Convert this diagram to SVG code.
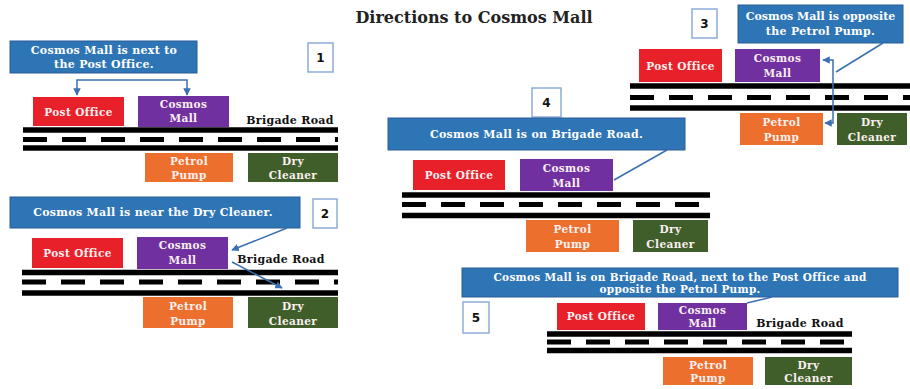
<svg xmlns="http://www.w3.org/2000/svg" width="910" height="389" viewBox="0 0 910 389">
<defs>
<style>
.call{fill:#2e75b6;stroke:#2a5d96;stroke-width:1}
.po{fill:#e8202a}
.cm{fill:#7030a0}
.pp{fill:#ec6f2d}
.dc{fill:#3f5e2a}
.num{fill:#fff;stroke:#8eaadb;stroke-width:1.5}
.bt{font-family:"DejaVu Serif",serif;font-weight:bold;font-size:10.5px;letter-spacing:0.4px;fill:#fbeff0;text-anchor:middle}
.ct{font-family:"DejaVu Serif",serif;font-weight:bold;font-size:11px;letter-spacing:0.3px;fill:#fff;text-anchor:middle}
.rt{font-family:"DejaVu Serif",serif;font-weight:bold;font-size:11px;letter-spacing:0.3px;fill:#111;text-anchor:middle}
.nt{font-family:"DejaVu Sans",sans-serif;font-weight:bold;font-size:12px;fill:#111;text-anchor:middle}
.title{font-family:"DejaVu Serif",serif;font-weight:bold;font-size:16px;fill:#222;text-anchor:middle}
.rs{stroke:#000;stroke-width:5.5;fill:none}
.rd{stroke:#000;stroke-width:5;stroke-dasharray:24 15;fill:none}
.ln{stroke:#3a6fb0;stroke-width:1.5;fill:none}
</style>
<marker id="ah" viewBox="0 0 10 10" refX="9" refY="5" markerWidth="5" markerHeight="5" orient="auto-start-reverse">
<path d="M0,0 L10,5 L0,10 z" fill="#3a6fb0"/>
</marker>
</defs>
<rect width="910" height="389" fill="#fff"/>
<text class="title" x="474" y="23">Directions to Cosmos Mall</text>

<!-- Panel 1 -->
<g id="p1-road">
<line class="rs" x1="23" y1="130" x2="338" y2="130"/>
<line class="rd" x1="23" y1="139.5" x2="338" y2="139.5"/>
<line class="rs" x1="23" y1="148" x2="338" y2="148"/>
</g>
<g id="p1-callout"><rect class="call" x="10" y="41" width="187" height="32"/><text class="ct" x="104" y="54">Cosmos Mall is next to</text><text class="ct" x="104" y="68">the Post Office.</text></g>
<g id="p1-num"><rect class="num" x="308" y="43" width="25" height="29"/><text class="nt" x="320.5" y="62">1</text></g>
<g id="p1-po"><rect class="po" x="33" y="97" width="91" height="29"/><text class="bt" x="78.5" y="115.5">Post Office</text></g>
<g id="p1-cm"><rect class="cm" x="138" y="96" width="91" height="31"/><text class="bt" x="183.5" y="108">Cosmos</text><text class="bt" x="183.5" y="122">Mall</text></g>
<g id="p1-br"><text class="rt" x="290" y="124">Brigade Road</text></g>
<g id="p1-pp"><rect class="pp" x="145" y="153" width="88" height="29"/><text class="bt" x="189" y="165">Petrol</text><text class="bt" x="189" y="179">Pump</text></g>
<g id="p1-dc"><rect class="dc" x="248" y="153" width="90" height="29"/><text class="bt" x="293" y="165">Dry</text><text class="bt" x="293" y="179">Cleaner</text></g>

<!-- Panel 2 -->
<g id="p2-road">
<line class="rs" x1="22" y1="272.5" x2="338" y2="272.5"/>
<line class="rd" x1="22" y1="282" x2="338" y2="282"/>
<line class="rs" x1="22" y1="293" x2="338" y2="293"/>
</g>
<g id="p2-callout"><rect class="call" x="10" y="197" width="290" height="31"/><text class="ct" x="153" y="216">Cosmos Mall is near the Dry Cleaner.</text></g>
<g id="p2-num"><rect class="num" x="313" y="199" width="24" height="29"/><text class="nt" x="325" y="218">2</text></g>
<g id="p2-po"><rect class="po" x="32" y="238" width="91" height="30"/><text class="bt" x="77.5" y="257">Post Office</text></g>
<g id="p2-cm"><rect class="cm" x="137" y="237" width="91" height="32"/><text class="bt" x="182.5" y="249">Cosmos</text><text class="bt" x="182.5" y="264">Mall</text></g>
<g id="p2-br"><text class="rt" x="281" y="263">Brigade Road</text></g>
<g id="p2-pp"><rect class="pp" x="143" y="297" width="90" height="31"/><text class="bt" x="188" y="310">Petrol</text><text class="bt" x="188" y="325">Pump</text></g>
<g id="p2-dc"><rect class="dc" x="248" y="297" width="90" height="31"/><text class="bt" x="293" y="310">Dry</text><text class="bt" x="293" y="325">Cleaner</text></g>

<!-- Panel 3 -->
<g id="p3-road">
<line class="rs" x1="630" y1="86" x2="910" y2="86"/>
<line class="rd" x1="630" y1="97.5" x2="910" y2="97.5"/>
<line class="rs" x1="630" y1="108" x2="910" y2="108"/>
</g>
<g id="p3-num"><rect class="num" x="692" y="9" width="25" height="29"/><text class="nt" x="704.5" y="28">3</text></g>
<g id="p3-callout"><rect class="call" x="738" y="5" width="165" height="38"/><text class="ct" x="820.5" y="20" style="letter-spacing:0">Cosmos Mall is opposite</text><text class="ct" x="820.5" y="35">the Petrol Pump.</text></g>
<g id="p3-po"><rect class="po" x="639" y="49" width="83" height="33"/><text class="bt" x="680.5" y="69.5">Post Office</text></g>
<g id="p3-cm"><rect class="cm" x="735" y="49" width="85" height="33"/><text class="bt" x="777.5" y="62">Cosmos</text><text class="bt" x="777.5" y="77">Mall</text></g>
<g id="p3-pp"><rect class="pp" x="740" y="113" width="83" height="32"/><text class="bt" x="781.5" y="126">Petrol</text><text class="bt" x="781.5" y="141">Pump</text></g>
<g id="p3-dc"><rect class="dc" x="837" y="113" width="70" height="32"/><text class="bt" x="872" y="126">Dry</text><text class="bt" x="872" y="141">Cleaner</text></g>

<!-- Panel 4 -->
<g id="p4-road">
<line class="rs" x1="402" y1="195" x2="710" y2="195"/>
<line class="rd" x1="402" y1="204.5" x2="710" y2="204.5"/>
<line class="rs" x1="402" y1="215.5" x2="710" y2="215.5"/>
</g>
<g id="p4-num"><rect class="num" x="532" y="88" width="29" height="29"/><text class="nt" x="546.5" y="107">4</text></g>
<g id="p4-callout"><rect class="call" x="388" y="118" width="297" height="32"/><text class="ct" x="536.5" y="138">Cosmos Mall is on Brigade Road.</text></g>
<g id="p4-po"><rect class="po" x="413" y="160" width="92" height="30"/><text class="bt" x="459" y="179">Post Office</text></g>
<g id="p4-cm"><rect class="cm" x="520" y="159" width="93" height="32"/><text class="bt" x="566.5" y="172">Cosmos</text><text class="bt" x="566.5" y="187">Mall</text></g>
<g id="p4-pp"><rect class="pp" x="526" y="220" width="93" height="32"/><text class="bt" x="572.5" y="233">Petrol</text><text class="bt" x="572.5" y="248">Pump</text></g>
<g id="p4-dc"><rect class="dc" x="633" y="220" width="75" height="32"/><text class="bt" x="670.5" y="233">Dry</text><text class="bt" x="670.5" y="248">Cleaner</text></g>

<!-- Panel 5 -->
<g id="p5-road">
<line class="rs" x1="547" y1="334" x2="852" y2="334"/>
<line class="rd" x1="547" y1="342" x2="852" y2="342"/>
<line class="rs" x1="547" y1="350.5" x2="852" y2="350.5"/>
</g>
<g id="p5-callout"><rect class="call" x="462" y="268" width="436" height="29"/><text class="ct" x="680" y="280.5" style="font-size:10.5px">Cosmos Mall is on Brigade Road, next to the Post Office and</text><text class="ct" x="680" y="293" style="font-size:10.5px">opposite the Petrol Pump.</text></g>
<g id="p5-num"><rect class="num" x="463" y="302" width="26" height="31"/><text class="nt" x="476" y="322">5</text></g>
<g id="p5-po"><rect class="po" x="557" y="303" width="88" height="27"/><text class="bt" x="601" y="320">Post Office</text></g>
<g id="p5-cm"><rect class="cm" x="658" y="303" width="89" height="27"/><text class="bt" x="702.5" y="314">Cosmos</text><text class="bt" x="702.5" y="327">Mall</text></g>
<g id="p5-br"><text class="rt" x="800" y="327">Brigade Road</text></g>
<g id="p5-pp"><rect class="pp" x="663" y="357" width="90" height="28"/><text class="bt" x="708" y="369">Petrol</text><text class="bt" x="708" y="382">Pump</text></g>
<g id="p5-dc"><rect class="dc" x="765" y="357" width="87" height="28"/><text class="bt" x="808.5" y="369">Dry</text><text class="bt" x="808.5" y="382">Cleaner</text></g>

<!-- Connectors -->
<g id="connectors">
<path class="ln" d="M77,95 V80 H187 V95" marker-start="url(#ah)" marker-end="url(#ah)"/>
<path class="ln" d="M287,228 L232,250" marker-end="url(#ah)"/>
<path class="ln" d="M232,262 L282,288" marker-end="url(#ah)"/>
<path class="ln" d="M823,60 H833 V123 H825" marker-start="url(#ah)" marker-end="url(#ah)"/>
<path class="ln" d="M883,43 L836,72"/>
<path class="ln" d="M667,150 L614,180"/>
<path class="ln" d="M772,297 L747,303"/>
</g>
</svg>
